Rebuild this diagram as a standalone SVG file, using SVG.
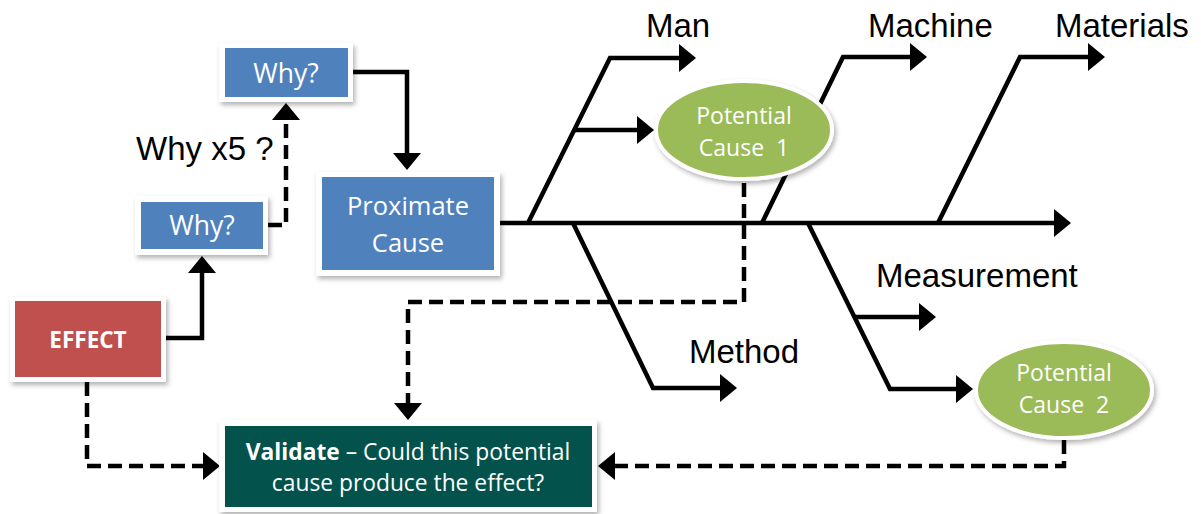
<svg xmlns="http://www.w3.org/2000/svg" width="1201" height="514" viewBox="0 0 1201 514">
<defs>
<filter id="sh" x="-20%" y="-20%" width="140%" height="150%">
<feDropShadow dx="2" dy="3" stdDeviation="2.5" flood-color="#000" flood-opacity="0.3"/>
</filter>
<marker id="ah" markerUnits="userSpaceOnUse" markerWidth="17" markerHeight="28" refX="1" refY="14" orient="auto" overflow="visible">
<path d="M0,0 L17,14 L0,28 Z" fill="#000"/>
</marker>
</defs>
<style>
.ln{fill:none;stroke:#000;stroke-width:4.5;stroke-linejoin:miter}
.ds{stroke-dasharray:14 7}
.frame{fill:#fff;filter:url(#sh)}
.bt{font-family:"Open Sans","Noto Sans",sans-serif;fill:#fff;text-anchor:middle}
.lb{font-family:"Liberation Sans",Arial,sans-serif;font-size:33px;fill:#000}
.ell{stroke:#fff;stroke-width:4;fill:#9BBB59;filter:url(#sh)}
</style>
<rect width="1201" height="514" fill="#fff"/>
<g id="connectors">
<path class="ln" d="M500,223 H1055" marker-end="url(#ah)"/>
<path class="ln" d="M528,223 L610,58 H680" marker-end="url(#ah)"/>
<path class="ln" d="M575,130 H638" marker-end="url(#ah)"/>
<path class="ln" d="M762,223 L843,57 H911" marker-end="url(#ah)"/>
<path class="ln" d="M938,223 L1020,57 H1089" marker-end="url(#ah)"/>
<path class="ln" d="M573,223 L653,388 H721" marker-end="url(#ah)"/>
<path class="ln" d="M808,223 L890,389 H957" marker-end="url(#ah)"/>
<path class="ln" d="M854,317 H920" marker-end="url(#ah)"/>
<path class="ln" d="M166,338 H202 V272" marker-end="url(#ah)"/>
<path class="ln ds" d="M268,225 H286 V119" marker-end="url(#ah)"/>
<path class="ln" d="M353,72 H407 V154" marker-end="url(#ah)"/>
<path class="ln ds" d="M87,382 V466 H204" marker-end="url(#ah)"/>
<path class="ln ds" d="M744,183 V302 H408 V404" marker-end="url(#ah)"/>
<path class="ln ds" d="M1064,440 V466 H614" marker-end="url(#ah)"/>
</g>
<g id="why-top">
<rect class="frame" x="219" y="43" width="134" height="59"/>
<rect x="225" y="48" width="123" height="49" fill="#4F81BD"/>
<text class="bt" x="286" y="83" font-size="26.5">Why?</text>
</g>
<g id="why-low">
<rect class="frame" x="135" y="196" width="133" height="59"/>
<rect x="141" y="202" width="122" height="47" fill="#4F81BD"/>
<text class="bt" x="202" y="235" font-size="26.5">Why?</text>
</g>
<g id="why-x5">
<text class="lb" x="136" y="160">Why x5 ?</text>
</g>
<g id="proximate">
<rect class="frame" x="316" y="172" width="184" height="104"/>
<rect x="322" y="177" width="172" height="93" fill="#4F81BD"/>
<text class="bt" x="408" y="215" font-size="25.5">Proximate</text>
<text class="bt" x="408" y="252" font-size="25.5">Cause</text>
</g>
<g id="effect">
<rect class="frame" x="10" y="297" width="156" height="85"/>
<rect x="15" y="301" width="146" height="76" fill="#C0504D"/>
<text class="bt" x="88" y="348" font-size="22.5" font-weight="bold">EFFECT</text>
</g>
<g id="validate">
<rect class="frame" x="219" y="420" width="378" height="92"/>
<rect x="225" y="426" width="367" height="81" fill="#03524C"/>
<text class="bt" x="408" y="460" font-size="22.8"><tspan font-weight="bold">Validate</tspan> – Could this potential</text>
<text class="bt" x="408" y="491" font-size="22.8">cause produce the effect?</text>
</g>
<g id="cause1">
<ellipse class="ell" cx="744" cy="130" rx="88" ry="49"/>
<text class="bt" x="744" y="124" font-size="23">Potential</text>
<text class="bt" x="744" y="156" font-size="23" xml:space="preserve">Cause  1</text>
</g>
<g id="cause2">
<ellipse class="ell" cx="1064" cy="390" rx="88" ry="48"/>
<text class="bt" x="1064" y="381" font-size="23">Potential</text>
<text class="bt" x="1064" y="413" font-size="23" xml:space="preserve">Cause  2</text>
</g>
<g id="labels">
<text class="lb" x="646" y="37">Man</text>
<text class="lb" x="868" y="37">Machine</text>
<text class="lb" x="1055" y="37">Materials</text>
<text class="lb" x="689" y="363">Method</text>
<text class="lb" x="876" y="287">Measurement</text>
</g>
</svg>
